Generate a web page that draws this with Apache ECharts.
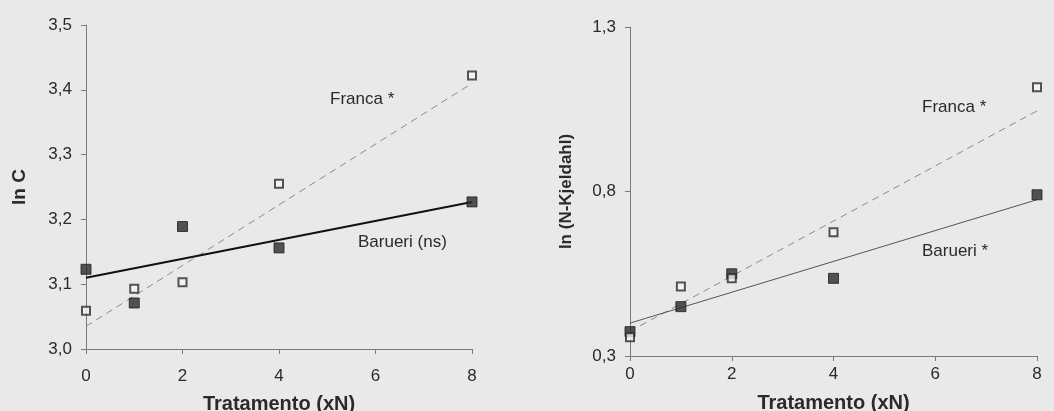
<!DOCTYPE html>
<html>
<head>
<meta charset="utf-8">
<script src="https://cdn.jsdelivr.net/npm/echarts@6/dist/echarts.min.js"></script>
<style>
html,body{margin:0;padding:0;background:#e9e9e9;}
#c{width:1054px;height:411px;}
</style>
</head>
<body>
<div id="c"></div>
<script>
// Treatment doses (xN)
const doses = [0, 1, 2, 4, 8];
const xTicks = [0, 2, 4, 6, 8];

// Left panel: ln C
const cBarueri = [3.123, 3.071, 3.189, 3.156, 3.227];
const cFranca  = [3.059, 3.093, 3.103, 3.255, 3.422];
const cBarueriFit = [[0, 3.110], [8, 3.227]];
const cFrancaFit  = [[0, 3.035], [8, 3.410]];

// Right panel: ln (N-Kjeldahl)
const nBarueri = [0.374, 0.450, 0.550, 0.536, 0.790];
const nFranca  = [0.357, 0.511, 0.536, 0.676, 1.117];
const nBarueriFit = [[0, 0.400], [8, 0.775]];
const nFrancaFit  = [[0.2, 0.392], [8, 1.045]];

const pairs = (xs, ys) => xs.map((x, i) => [x, ys[i]]);

const chart = echarts.init(document.getElementById('c'));
const font = 'Liberation Sans, Arial, sans-serif';
const axisLineStyle = {color: '#7a7a7a', width: 1};

function xAxis(gi, labelMargin, nameGap) {
  return {
    type: 'value', gridIndex: gi, min: 0, max: 8, interval: 2,
    name: 'Tratamento (xN)', nameLocation: 'middle', nameGap: nameGap,
    nameTextStyle: {fontFamily: font, fontSize: 20, fontWeight: 'bold', color: '#2a2a2a'},
    axisLine: {lineStyle: axisLineStyle},
    axisTick: {show: true, length: 5, lineStyle: axisLineStyle},
    axisLabel: {fontFamily: font, fontSize: 17, color: '#2a2a2a', margin: labelMargin},
    splitLine: {show: false}
  };
}
function yAxis(gi, min, max, interval, name, gap, nameSize) {
  return {
    type: 'value', gridIndex: gi, min: min, max: max, interval: interval,
    name: name, nameLocation: 'middle', nameGap: gap, nameRotate: 90,
    nameTextStyle: {fontFamily: font, fontSize: nameSize, fontWeight: 'bold', color: '#2a2a2a'},
    axisLine: {show: true, lineStyle: axisLineStyle},
    axisTick: {show: true, length: 5, lineStyle: axisLineStyle},
    axisLabel: {fontFamily: font, fontSize: 17, color: '#2a2a2a', margin: 14,
      formatter: v => v.toFixed(1).replace('.', ',')},
    splitLine: {show: false}
  };
}

const filled = {color: '#2b2b2b', borderColor: '#1e1e1e', borderWidth: 1};
const open = {color: '#f4f4f4', borderColor: '#2b2b2b', borderWidth: 2};

chart.setOption({
  backgroundColor: '#e9e9e9',
  animation: false,
  grid: [
    {left: 86, right: 582, top: 25, bottom: 62, containLabel: false, outerBoundsMode: 'none'},
    {left: 630, right: 17, top: 27, bottom: 55, containLabel: false, outerBoundsMode: 'none'}
  ],
  xAxis: [xAxis(0, 19, 45), xAxis(1, 10, 37)],
  yAxis: [
    yAxis(0, 3.0, 3.5, 0.1, 'ln C', 57, 19),
    yAxis(1, 0.3, 1.3, 0.5, 'ln (N-Kjeldahl)', 55, 17)
  ],
  series: [
    {type: 'line', xAxisIndex: 0, yAxisIndex: 0, data: cFrancaFit, showSymbol: false,
      lineStyle: {color: '#8a8a8a', width: 1, type: [7, 5]}, z: 1},
    {type: 'line', xAxisIndex: 0, yAxisIndex: 0, data: cBarueriFit, showSymbol: false,
      lineStyle: {color: '#111', width: 2}, z: 1},
    {type: 'scatter', name: 'Barueri', xAxisIndex: 0, yAxisIndex: 0, data: pairs(doses, cBarueri),
      symbol: 'rect', symbolSize: 10, itemStyle: filled, z: 3},
    {type: 'scatter', name: 'Franca', xAxisIndex: 0, yAxisIndex: 0, data: pairs(doses, cFranca),
      symbol: 'rect', symbolSize: 8, itemStyle: open, z: 4},

    {type: 'line', xAxisIndex: 1, yAxisIndex: 1, data: nFrancaFit, showSymbol: false,
      lineStyle: {color: '#8a8a8a', width: 1, type: [7, 5]}, z: 1},
    {type: 'line', xAxisIndex: 1, yAxisIndex: 1, data: nBarueriFit, showSymbol: false,
      lineStyle: {color: '#555', width: 1}, z: 1},
    {type: 'scatter', name: 'Barueri', xAxisIndex: 1, yAxisIndex: 1, data: pairs(doses, nBarueri),
      symbol: 'rect', symbolSize: 10, itemStyle: filled, z: 3},
    {type: 'scatter', name: 'Franca', xAxisIndex: 1, yAxisIndex: 1, data: pairs(doses, nFranca),
      symbol: 'rect', symbolSize: 8, itemStyle: open, z: 4}
  ],
  graphic: [
    {type: 'text', left: 330, top: 91, style: {text: 'Franca *', font: '17px ' + font, fill: '#2a2a2a'}},
    {type: 'text', left: 358, top: 234, style: {text: 'Barueri (ns)', font: '17px ' + font, fill: '#2a2a2a'}},
    {type: 'text', left: 922, top: 99, style: {text: 'Franca *', font: '17px ' + font, fill: '#2a2a2a'}},
    {type: 'text', left: 922, top: 243, style: {text: 'Barueri *', font: '17px ' + font, fill: '#2a2a2a'}}
  ]
});
</script>
</body>
</html>
